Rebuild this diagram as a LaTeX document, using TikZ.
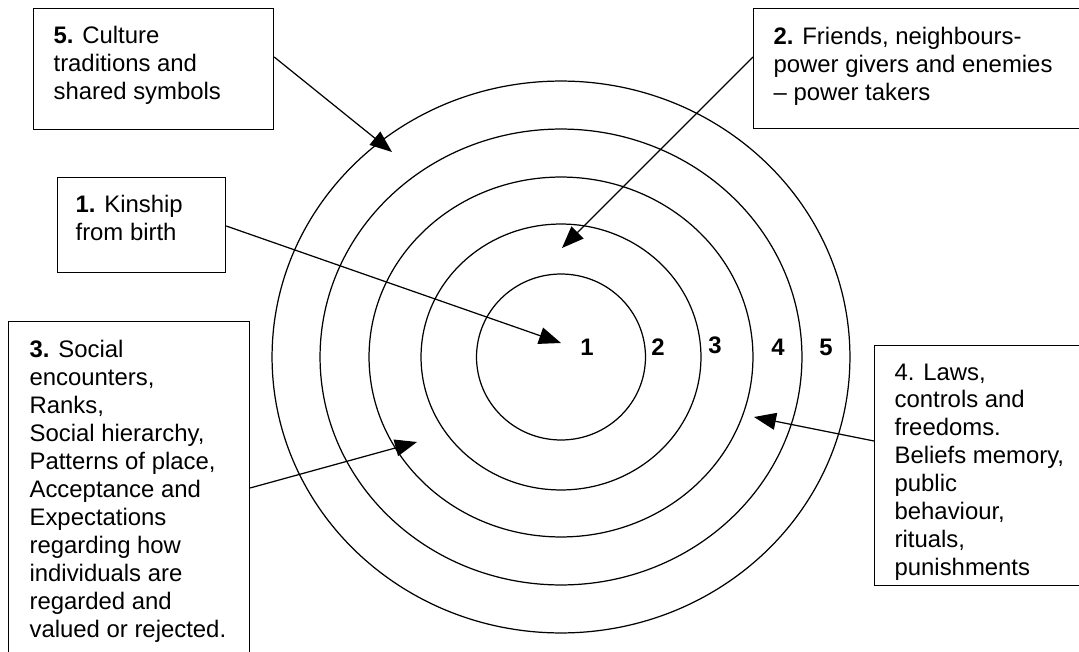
\documentclass[tikz,border=0pt]{standalone}
\usepackage{fontspec}
\setmainfont{Liberation Sans}
\usetikzlibrary{positioning,arrows.meta}

\begin{document}
\begin{tikzpicture}[x=0.02cm, y=-0.02cm, line width=0.7pt,
  box/.style={draw, anchor=north west, inner sep=0pt},
  txt/.style={align=left, inner sep=0pt, font=\fontsize{13.6}{15.9}\selectfont},
  num/.style={anchor=base, inner sep=0pt, font=\fontsize{13.6}{15.9}\selectfont\bfseries},
  arr/.style={-{Triangle[length=0.44cm, width=0.34cm]}}]
\useasboundingbox (0,0) rectangle (1079,652);

% rings
\coordinate (c) at (561,357);
\draw (c) ellipse [x radius=1.69cm, y radius=1.66cm];
\draw (c) ellipse [x radius=2.80cm, y radius=2.66cm];
\draw (c) ellipse [x radius=3.84cm, y radius=3.60cm];
\draw (c) ellipse [x radius=4.82cm, y radius=4.56cm];
\draw (c) ellipse [x radius=5.78cm, y radius=5.52cm];

\node[num] (n1) at (587,355) {1};
\node[num] (n2) at (658,355) {2};
\node[num] (n3) at (715,353) {3};
\node[num] (n4) at (778,355) {4};
\node[num] (n5) at (826,355) {5};

% boxes
\node[box, minimum width=4.8cm, minimum height=2.42cm] (b5) at (33,8) {};
\node[box, minimum width=6.8cm, minimum height=2.4cm] (b2) at (753,8) {};
\node[box, minimum width=3.36cm, minimum height=1.9cm] (b1) at (57,177) {};
\node[box, minimum width=4.82cm, minimum height=6.8cm] (b3) at (8,321) {};
\node[box, minimum width=4.4cm, minimum height=4.8cm] (b4) at (874,345) {};

\node[txt, below right=0.36cm and 0.4cm of b5.north west] (t5)
  {\textbf{5.} Culture\\traditions and\\shared symbols};
\node[txt, below right=0.38cm and 0.4cm of b2.north west] (t2)
  {\textbf{2.} Friends, neighbours-\\power givers and enemies\\-- power takers};
\node[txt, below right=0.36cm and 0.36cm of b1.north west] (t1)
  {\textbf{1.} Kinship\\from birth};
\node[txt, below right=0.38cm and 0.42cm of b3.north west] (t3)
  {\textbf{3.} Social\\encounters,\\Ranks,\\Social hierarchy,\\Patterns of place,\\Acceptance and\\Expectations\\regarding how\\individuals are\\regarded and\\valued or rejected.};
\node[txt, below right=0.36cm and 0.4cm of b4.north west] (t4)
  {4. Laws,\\controls and\\freedoms.\\Beliefs memory,\\public\\behaviour,\\rituals,\\punishments};

% arrows
\coordinate (p5) at (392,152);
\coordinate (p2) at (562,248);
\coordinate (p1) at (561,343);
\coordinate (p3) at (417,442);
\coordinate (p4) at (754,417);

\draw[arr] ([yshift=-0.98cm]b5.north east) to (p5);
\draw[arr] ([yshift=-0.98cm]b2.north west) to (p2);
\draw[arr] ([yshift=-0.98cm]b1.north east) to (p1);
\draw[arr] ([yshift=-3.34cm]b3.north east) to (p3);
\draw[arr] ([yshift=-1.92cm]b4.north west) to (p4);

\end{tikzpicture}
\end{document}
